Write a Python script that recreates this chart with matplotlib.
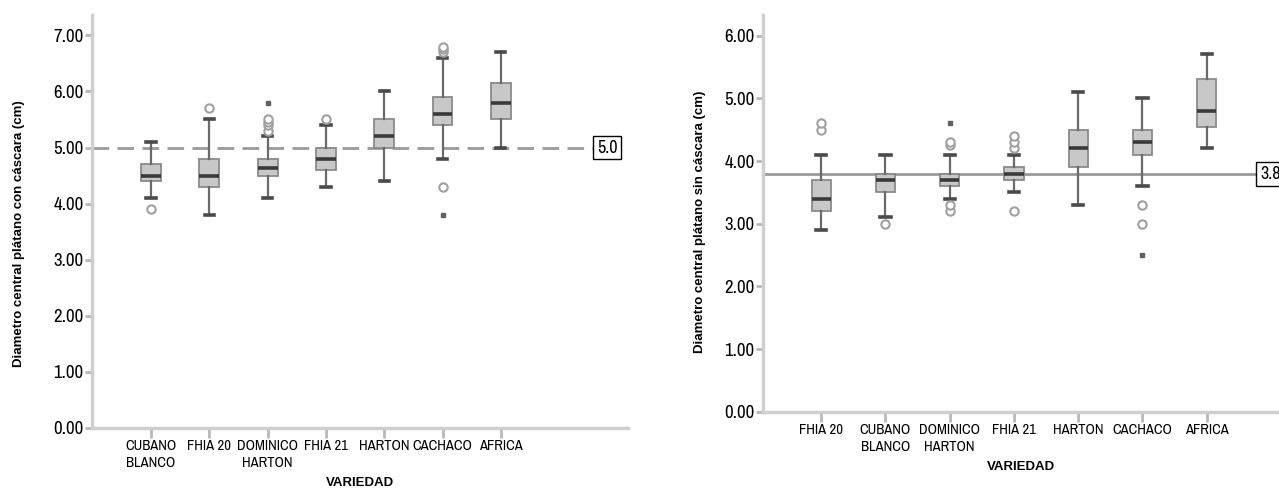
import matplotlib
matplotlib.use("Agg")
import matplotlib.pyplot as plt
import matplotlib.transforms as mtransforms

NARROW = ['Archivo Narrow', 'Roboto Condensed', 'DejaVu Sans']
BOLD = ['Liberation Sans', 'DejaVu Sans']
plt.rcParams['font.family'] = NARROW

# ---------------- Data: left panel (con cáscara) ----------------
cats_left = ["CUBANO\nBLANCO", "FHIA 20", "DOMINICO\nHARTON", "FHIA 21", "HARTON", "CACHACO", "AFRICA"]
left_whislo = [4.1, 3.8, 4.1, 4.3, 4.4, 4.8, 5.0]
left_q1     = [4.4, 4.3, 4.5, 4.6, 5.0, 5.4, 5.5]
left_med    = [4.5, 4.5, 4.63, 4.8, 5.2, 5.6, 5.8]
left_q3     = [4.7, 4.8, 4.8, 5.0, 5.5, 5.9, 6.15]
left_whishi = [5.1, 5.5, 5.2, 5.4, 6.0, 6.6, 6.7]
left_outliers = [[3.9], [5.7], [5.3, 5.4, 5.45, 5.5], [5.5], [], [4.3, 6.7, 6.75, 6.8], []]
left_extremes = [[], [], [5.8], [], [], [3.8], []]
left_ref = 5.0

# ---------------- Data: right panel (sin cáscara) ----------------
cats_right = ["FHIA 20", "CUBANO\nBLANCO", "DOMINICO\nHARTON", "FHIA 21", "HARTON", "CACHACO", "AFRICA"]
right_whislo = [2.9, 3.1, 3.4, 3.5, 3.3, 3.6, 4.2]
right_q1     = [3.2, 3.5, 3.6, 3.7, 3.9, 4.1, 4.55]
right_med    = [3.4, 3.7, 3.7, 3.8, 4.2, 4.3, 4.8]
right_q3     = [3.7, 3.8, 3.8, 3.9, 4.5, 4.5, 5.3]
right_whishi = [4.1, 4.1, 4.1, 4.1, 5.1, 5.0, 5.7]
right_outliers = [[4.5, 4.6], [3.0], [3.2, 3.3, 4.25, 4.3], [3.2, 4.2, 4.3, 4.4], [], [3.0, 3.3], []]
right_extremes = [[], [], [4.6], [], [], [2.5], []]
right_ref = 3.8

left_yticks = [0, 1, 2, 3, 4, 5, 6, 7]
right_yticks = [0, 1, 2, 3, 4, 5, 6]

fig = plt.figure(figsize=(12.79, 4.88), dpi=100)

BOX_FC = "#c8c8c8"
BOX_EC = "#8a8a8a"
AX_C = "#cfcfcf"


def panel(rect, cats, wlo, q1, med, q3, whi, outl, extr, ref, yticks, ylim, xlim,
          ylabel, dashed, line_end, width, tick_pad):
    ax = fig.add_axes(rect)
    stats = []
    for i in range(len(cats)):
        stats.append(dict(whislo=wlo[i], q1=q1[i], med=med[i], q3=q3[i],
                          whishi=whi[i], fliers=outl[i], label=cats[i]))
    pos = list(range(1, len(cats) + 1))
    ax.bxp(stats, positions=pos, widths=width, patch_artist=True,
           showfliers=True, capwidths=0.16,
           boxprops=dict(facecolor=BOX_FC, edgecolor=BOX_EC, linewidth=1.3),
           medianprops=dict(color="#3a3a3a", linewidth=2.6),
           whiskerprops=dict(color="#6a6a6a", linewidth=1.6),
           capprops=dict(color="#4a4a4a", linewidth=2.6),
           flierprops=dict(marker="o", markerfacecolor="white", markeredgecolor="#a0a0a0",
                           markersize=6, markeredgewidth=1.5, linestyle="none"),
           zorder=3)
    for p, ex in zip(pos, extr):
        if ex:
            ax.plot([p] * len(ex), ex, linestyle="none", marker="s", markersize=3.2,
                    color="#606060", zorder=4)
    if dashed:
        ax.axhline(ref, xmin=0, xmax=line_end, color="#9a9a9a", linewidth=2.0,
                   dashes=(6, 3), zorder=2)
    else:
        ax.axhline(ref, xmin=0, xmax=line_end, color="#9a9a9a", linewidth=2.0, zorder=2)
    trans = mtransforms.blended_transform_factory(ax.transAxes, ax.transData)
    ax.text(line_end + 0.004, ref, f"{ref:.1f}", transform=trans, ha="left", va="center",
            fontsize=13, clip_on=False,
            bbox=dict(boxstyle="square,pad=0.22", facecolor="white", edgecolor="black",
                      linewidth=1.0))
    ax.set_xlim(*xlim)
    ax.set_ylim(*ylim)
    ax.set_yticks(yticks)
    ax.set_yticklabels([f"{v:.2f}" for v in yticks], fontsize=13.5)
    ax.set_xticks(pos)
    ax.set_xticklabels(cats, fontsize=10.5, linespacing=1.3, multialignment="center")
    for s in ["top", "right"]:
        ax.spines[s].set_visible(False)
    for s in ["left", "bottom"]:
        ax.spines[s].set_color(AX_C)
        ax.spines[s].set_linewidth(2.5)
    ax.tick_params(axis="y", length=5, width=2, color="#b8b8b8", pad=1)
    ax.tick_params(axis="x", length=7, width=2, color="#b8b8b8", pad=tick_pad)
    ax.set_ylabel(ylabel, fontsize=9.5, fontweight="bold", family=BOLD)
    ax.set_xlabel("VARIEDAD", fontsize=9.5, fontweight="bold", family=BOLD, labelpad=5)
    return ax


axL = panel([0.0719, 0.123, 0.419, 0.846], cats_left, left_whislo, left_q1, left_med,
            left_q3, left_whishi, left_outliers, left_extremes, left_ref, left_yticks,
            (0, 7.36), (-0.014, 9.18),
            "Diametro central plátano con cáscara (cm)", True, 0.938, 0.34, 1)
axL.yaxis.set_label_coords(-0.125, 0.47)

axR = panel([0.5965, 0.156, 0.4035, 0.8135], cats_right, right_whislo, right_q1, right_med,
            right_q3, right_whishi, right_outliers, right_extremes, right_ref, right_yticks,
            (0, 6.33), (0.094, 8.125),
            "Diametro central plátano sin cáscara (cm)", False, 0.959, 0.3, 1)
axR.yaxis.set_label_coords(-0.11, 0.48)

fig.savefig("out.png", dpi=100)
